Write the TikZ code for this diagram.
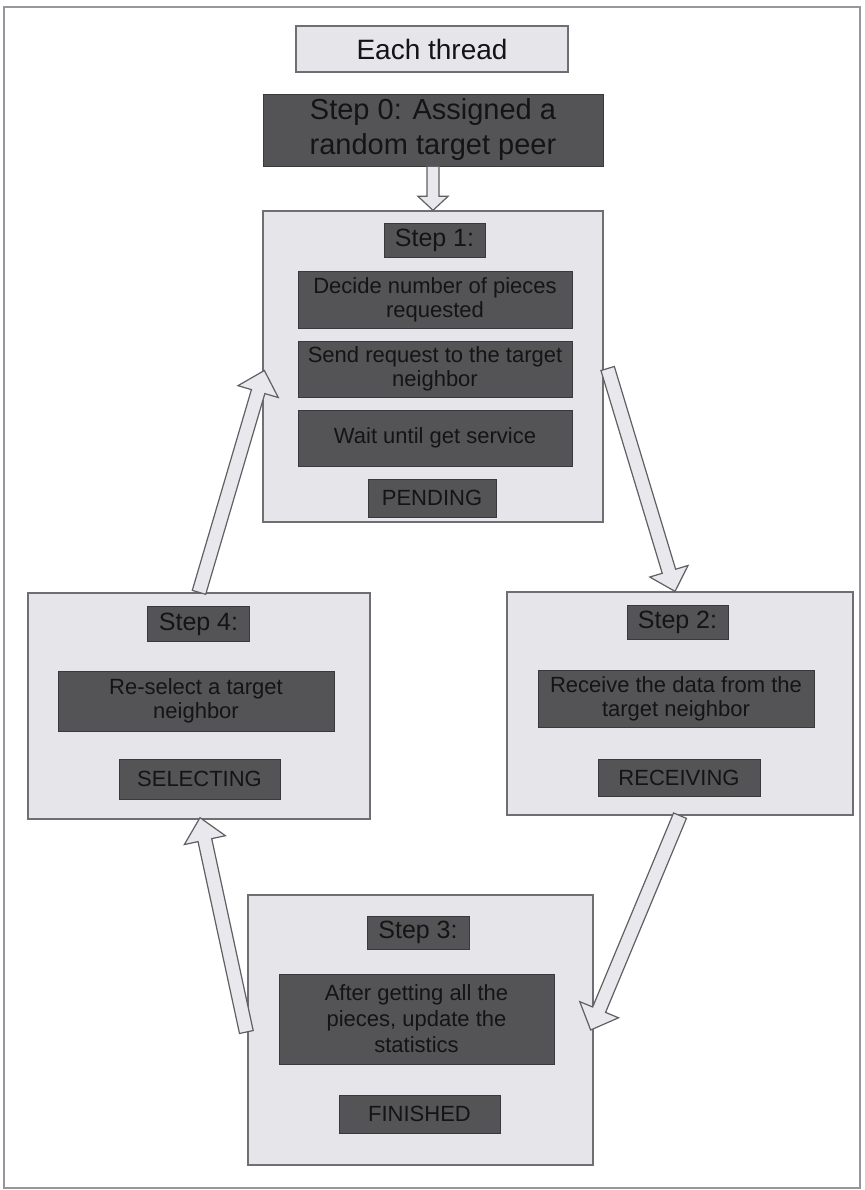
\documentclass[tikz,border=0pt]{standalone}
\usepackage{fontspec}
\setmainfont{Liberation Sans}
\usetikzlibrary{calc}

\definecolor{panel}{RGB}{229,229,234}
\definecolor{panelline}{RGB}{110,110,115}
\definecolor{darkfill}{RGB}{84,84,86}
\definecolor{darkline}{RGB}{58,58,60}
\definecolor{ink}{RGB}{20,20,20}
\definecolor{framecol}{RGB}{150,150,156}
\definecolor{arrowfill}{RGB}{232,232,237}
\definecolor{arrowline}{RGB}{95,95,100}

\tikzset{
  sz/.style 2 args={minimum width=#1pt, minimum height=#2pt},
  panelbox/.style={draw=panelline, line width=1.3pt, fill=panel, inner sep=0pt},
  darkbox/.style={draw=darkline, line width=0.8pt, fill=darkfill, text=ink,
    inner sep=0pt, align=center, font=\fontsize{22}{24}\selectfont},
  labelbox/.style={darkbox, font=\fontsize{25}{28}\selectfont},
  blockarrow/.style={draw=arrowline, line width=1.2pt, fill=arrowfill, line join=miter},
}

% hollow block arrow: tail, tip, shaft half-width, head half-width, head length
\newcommand\blockarrow[5]{%
  \coordinate (hb) at ($(#2)!#5pt!(#1)$);
  \draw[blockarrow]
    ($(#1)!#3pt!90:(#2)$) -- ($(hb)!#3pt!-90:(#1)$) -- ($(hb)!#4pt!-90:(#1)$)
    -- (#2) -- ($(hb)!#4pt!90:(#1)$) -- ($(hb)!#3pt!90:(#1)$)
    -- ($(#1)!#3pt!-90:(#2)$) -- cycle;
}

\begin{document}
\begin{tikzpicture}[x=1pt, y=-1pt]
  \useasboundingbox (0,0) rectangle (864,1190);
  \fill[white] (0,0) rectangle (864,1190);
  \draw[framecol, line width=1.5pt] (4,7) rectangle (860,1188);

  % header
  \node[panelbox, sz={272}{46}, font=\fontsize{28}{32}\selectfont, text=ink] (each) at (432,49) {Each thread};
  \node[darkbox, sz={340}{72}, font=\fontsize{29}{35}\selectfont] (step0) at (433,130) {Step 0: Assigned a\\random target peer};

  % step 1
  \node[panelbox, sz={340}{311}] (s1box) at (433,366.5) {};
  \node[labelbox, sz={101}{34}] (s1lab) at (434.5,240) {Step 1:};
  \node[darkbox, sz={274}{57}] (s1a) at (435,299.5) {Decide number of pieces\\requested};
  \node[darkbox, sz={274}{56}] (s1b) at (435,369) {Send request to the target\\neighbor};
  \node[darkbox, sz={274}{56}] (s1c) at (435,438) {Wait until get service};
  \node[darkbox, sz={128}{38}] (pend) at (432,498) {PENDING};

  % step 4
  \node[panelbox, sz={342}{226}] (s4box) at (199,706) {};
  \node[labelbox, sz={102}{35}] (s4lab) at (198.5,624) {Step 4:};
  \node[darkbox, sz={276}{60}] (s4a) at (196,701) {Re-select a target\\neighbor};
  \node[darkbox, sz={161}{40}] (sel) at (199.5,779) {SELECTING};

  % step 2
  \node[panelbox, sz={346}{223}] (s2box) at (680,703.5) {};
  \node[labelbox, sz={101}{34}] (s2lab) at (677.5,622) {Step 2:};
  \node[darkbox, sz={276}{57}] (s2a) at (676,698.5) {Receive the data from the\\target neighbor};
  \node[darkbox, sz={162}{37}] (recv) at (679,777.5) {RECEIVING};

  % step 3
  \node[panelbox, sz={345}{270}] (s3box) at (420.5,1030) {};
  \node[labelbox, sz={102}{33}] (s3lab) at (418,932.5) {Step 3:};
  \node[darkbox, sz={275}{90}, font=\fontsize{22}{26}\selectfont] (s3a) at (416.5,1019) {After getting all the\\pieces, update the\\statistics};
  \node[darkbox, sz={161}{38}] (fin) at (419.5,1114) {FINISHED};

  % arrow end points
  \coordinate (aTail) at ($(s1box.east)+(4,2)$);
  \coordinate (aTip)  at ($(s2box.north)+(-5,0)$);
  \coordinate (bTip)  at ($(s1box.west)+(2,4)$);
  \coordinate (cTip)  at ($(s3box.east)+(-3,0)$);
  \coordinate (dTail) at ($(s3box.west)+(-1,2)$);
  \coordinate (dTip)  at ($(s4box.south)+(1,-2)$);

  % transitions
  \blockarrow{step0.south}{s1box.north}{6}{15}{14}
  \blockarrow{aTail}{aTip}{7}{20}{21}
  \blockarrow{s2box.south}{cTip}{7}{21}{22}
  \blockarrow{dTail}{dTip}{7}{21}{23}
  \blockarrow{s4box.north}{bTip}{7}{21}{22}
\end{tikzpicture}
\end{document}
